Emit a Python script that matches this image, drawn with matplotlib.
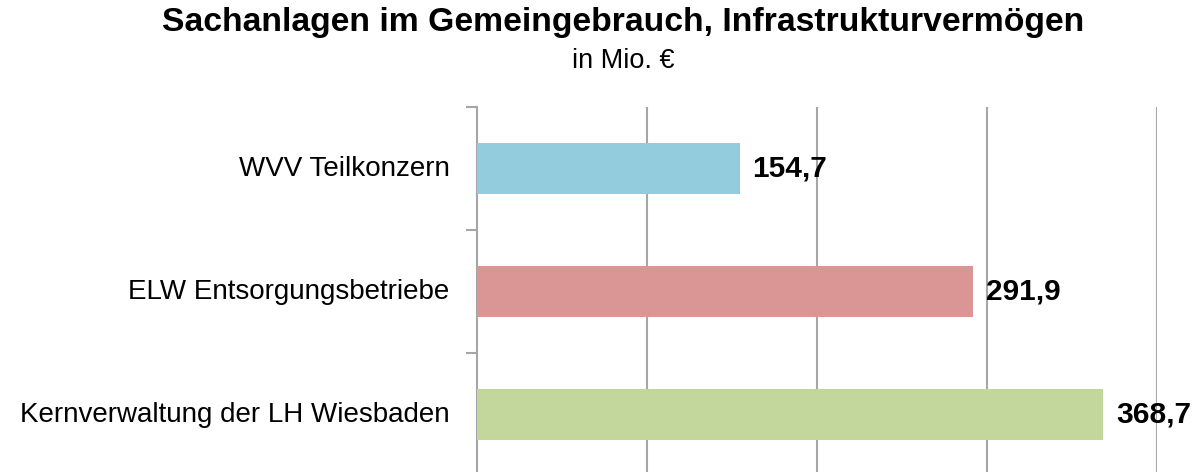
import matplotlib.pyplot as plt
import numpy as np

# Daten
kategorien = ['Kernverwaltung der LH Wiesbaden', 'ELW Entsorgungsbetriebe', 'WVV Teilkonzern']
werte = [368.7, 291.9, 154.7]
farben = ['#C3D69B', '#D99694', '#93CDDD']
beschriftung = ['368,7', '291,9', '154,7']

plt.rcParams['font.family'] = ['Liberation Sans', 'DejaVu Sans']

fig = plt.figure(figsize=(11.99, 4.72), dpi=100)
ax = fig.add_axes([0.3976, -0.0085, 0.5671, 0.7818])

y = np.arange(len(kategorien))
ax.barh(y, werte, height=0.41, color=farben, zorder=3)

for i, (w, t) in enumerate(zip(werte, beschriftung)):
    ax.text(w + 7.5, i, t, va='center', ha='left', fontsize=21.5, fontweight='bold', zorder=4)

ax.set_xlim(0, 400)
ax.set_ylim(-0.5, 2.5)
ax.set_xticks([100, 200, 300, 400])
ax.xaxis.grid(True, color='#A6A6A6', linewidth=1.5, zorder=0)
ax.tick_params(axis='x', length=0, labelbottom=False)

# Kategorien als Text, Teilstriche an den Grenzen
ax.set_yticks([0.5, 1.5, 2.5])
ax.set_yticklabels([])
ax.tick_params(axis='y', length=8, width=1.5, color='#A6A6A6')
for i, k in enumerate(kategorien):
    ax.text(-0.04, i, k, transform=ax.get_yaxis_transform(), ha='right', va='center', fontsize=20)

for s in ['top', 'right', 'bottom']:
    ax.spines[s].set_visible(False)
ax.spines['left'].set_color('#A6A6A6')
ax.spines['left'].set_linewidth(1.5)

fig.text(0.5196, 0.953, 'Sachanlagen im Gemeingebrauch, Infrastrukturvermögen',
         ha='center', va='center', fontsize=24.3, fontweight='bold')
fig.text(0.5196, 0.87, 'in Mio. €', ha='center', va='center', fontsize=19.5)

plt.savefig('out.png', dpi=100)
plt.close()
